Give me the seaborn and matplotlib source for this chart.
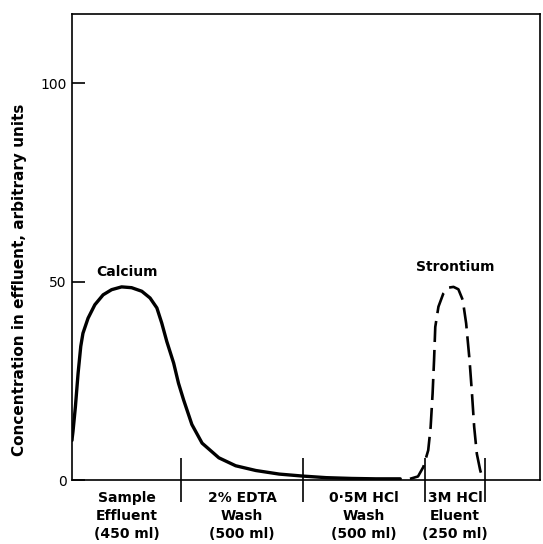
import matplotlib
matplotlib.use("Agg")
import matplotlib.pyplot as plt
import seaborn as sns
import pandas as pd

# ---- data ----
calcium_ml = [0, 1, 4, 14, 25, 36, 45, 66, 94, 128, 163, 204, 245, 287, 321, 349,
              369, 390, 418, 438, 459, 493, 535, 604, 673, 756, 852, 948, 1045,
              1150, 1250, 1350]
calcium_val = [10, 10.7, 12.2, 18.5, 26.9, 33.7, 37, 40.8, 44.2, 46.7, 48, 48.7,
               48.5, 47.6, 45.9, 43.4, 39.6, 34.9, 29.5, 24.4, 20.2, 14.0, 9.3,
               5.6, 3.6, 2.4, 1.5, 1.0, 0.6, 0.4, 0.3, 0.3]

strontium_ml = [1390, 1423, 1445, 1465, 1475, 1483, 1489, 1494, 1507, 1527, 1548,
                1569, 1589, 1607, 1621, 1635, 1645, 1654, 1665, 1679, 1690]
strontium_val = [0.3, 0.9, 3.3, 7.5, 13.4, 21.8, 30.2, 38.6, 43.7, 47, 48.5,
                 48.7, 48.1, 45.4, 39.5, 30.2, 21.8, 13.4, 6.6, 2.4, 0.3]

stage_bounds = [450, 950, 1450, 1700]
stage_centers = [225, 700, 1200, 1575]
stage_labels = ["Sample\nEffluent\n(450 ml)", "2% EDTA\nWash\n(500 ml)",
                "0·5M HCl\nWash\n(500 ml)", "3M HCl\nEluent\n(250 ml)"]
y_ticks = [0, 50, 100]

sns.set_theme(style="white")
plt.rcParams['font.family'] = ['DejaVu Sans']
plt.rcParams['text.color'] = 'black'
plt.rcParams['axes.labelcolor'] = 'black'
plt.rcParams['xtick.color'] = 'black'
plt.rcParams['ytick.color'] = 'black'

fig = plt.figure(figsize=(5.43, 5.44), dpi=100)
ax = fig.add_axes([0.1326, 0.1176, 0.862, 0.8566])

ca = pd.DataFrame({"ml": calcium_ml, "conc": calcium_val})
sr = pd.DataFrame({"ml": strontium_ml, "conc": strontium_val})

sns.lineplot(data=ca, x="ml", y="conc", ax=ax, color="black", lw=2.4, sort=False)
sns.lineplot(data=sr, x="ml", y="conc", ax=ax, color="black", lw=1.9, sort=False)
ax.lines[0].set_solid_joinstyle("round")
ax.lines[-1].set_dashes([8, 3])
ax.lines[-1].set_dash_joinstyle("round")

ax.set_xlim(0, 1925)
ax.set_ylim(0, 117.5)

for s in ax.spines.values():
    s.set_color("black")
    s.set_linewidth(1.2)

ax.set_yticks(y_ticks)
ax.set_yticklabels([str(v) for v in y_ticks], fontsize=10)
ax.tick_params(axis="y", left=True, direction="in", length=9, width=1.2,
               color="black", pad=4)

ax.set_xticks(stage_bounds)
ax.set_xticklabels([])
ax.tick_params(axis="x", which="major", bottom=True, direction="inout", length=32,
               width=1.2, color="black")
ax.set_xticks(stage_centers, minor=True)
ax.set_xticklabels(stage_labels, minor=True, fontsize=10, fontweight="bold",
                   linespacing=1.35)
ax.tick_params(axis="x", which="minor", bottom=True, length=0, pad=8)

ax.set_xlabel("")
ax.set_ylabel("Concentration in effluent, arbitrary units", fontsize=11,
              fontweight="bold")
ax.yaxis.set_label_coords(-0.097, 0.43)

ax.text(225, 50.8, "Calcium", ha="center", va="bottom", fontsize=10, fontweight="bold")
ax.text(1575, 52, "Strontium", ha="center", va="bottom", fontsize=10, fontweight="bold")

fig.savefig("out.png", dpi=100, facecolor="white")
